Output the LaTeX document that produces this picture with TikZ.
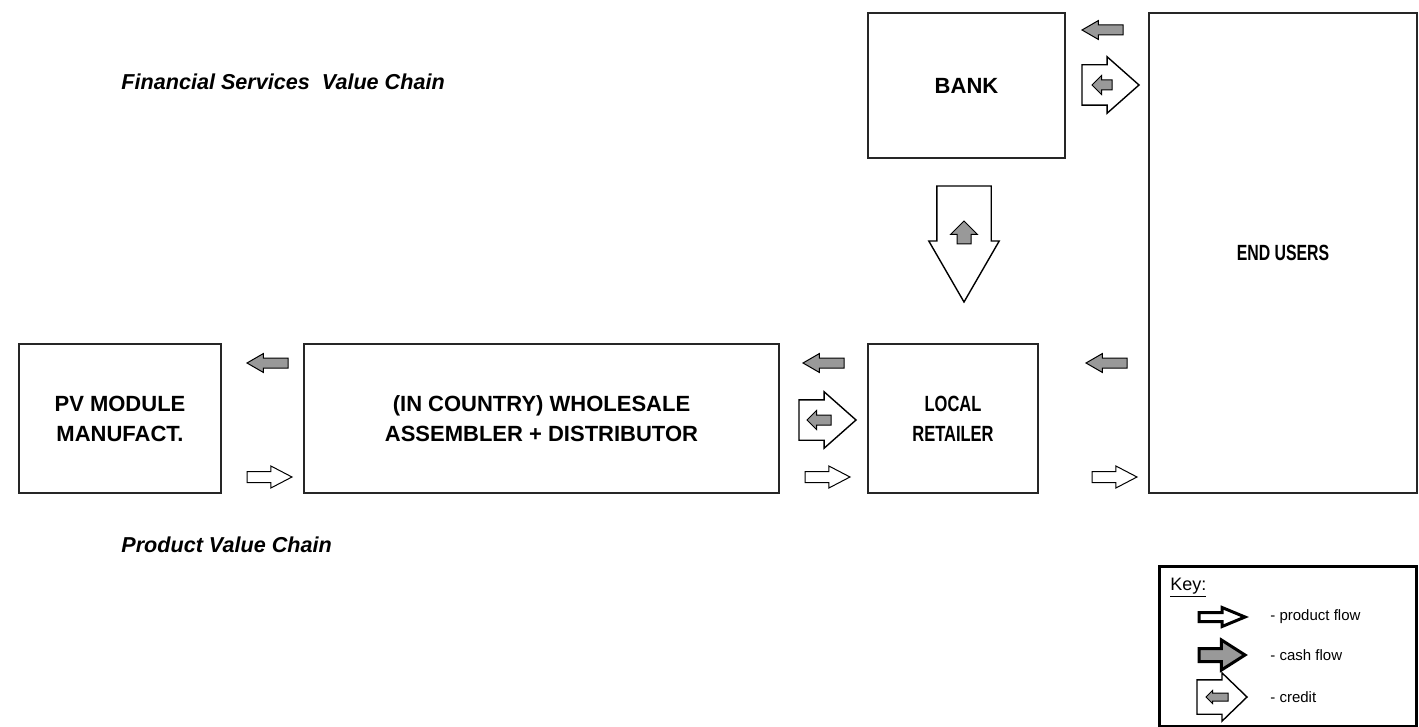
\documentclass[tikz,border=0pt]{standalone}
\usepackage{graphicx}
\usepackage{fontspec}
\setmainfont{Liberation Sans}
\usetikzlibrary{positioning, shapes.arrows}

\begin{document}
\begin{tikzpicture}[
    x=0.5pt, y=-0.5pt,
    box/.style={rectangle, draw=black!85, line width=0.8pt, outer sep=0pt,
                font=\bfseries\fontsize{11}{15}\selectfont, align=center},
    title/.style={anchor=west, inner sep=0pt,
                  font=\bfseries\itshape\fontsize{10.8}{13}\selectfont},
    flow/.style={single arrow, draw=black, line width=0.5pt, outer sep=0pt,
                 inner sep=0pt, minimum width=0pt, anchor=tail},
    product/.style={flow, fill=white, inner ysep=2.5pt, single arrow head extend=2.75pt,
                    minimum height=22.5pt, single arrow tip angle=55},
    cash/.style={flow, fill=black!40, inner ysep=2.25pt, single arrow head extend=2.25pt,
                 minimum height=20.5pt, single arrow tip angle=60,
                 shape border rotate=180},
    smallcash/.style={cash, minimum height=12pt, single arrow tip angle=90, anchor=tip},
    credit/.style={flow, fill=white, line width=0.7pt, inner ysep=9.75pt,
                   single arrow head extend=4pt, minimum height=28.5pt,
                   single arrow tip angle=83},
    keytext/.style={anchor=west, inner sep=0pt, font=\fontsize{7.5}{9}\selectfont},
  ]
  \useasboundingbox (0,0) rectangle (1419,727);

  \node[title] (fin) at (121,82) {Financial Services\ \ Value Chain};
  \node[title] (prod) at (121,545) {Product Value Chain};

  % the chain
  \node[box, minimum width=101pt, minimum height=74.5pt] (pv) at (120,418.5) {PV MODULE\\MANUFACT.};
  \node[box, minimum width=237.5pt, minimum height=74.5pt, right=41.5pt of pv] (ws) {(IN COUNTRY) WHOLESALE\\ASSEMBLER + DISTRIBUTOR};
  \node[box, minimum width=85pt, minimum height=74.5pt, right=44.5pt of ws] (lr) {\scalebox{0.75}[1]{LOCAL}\\\scalebox{0.75}[1]{RETAILER}};
  \node[box, minimum width=134pt, minimum height=240pt, anchor=south west] (eu) at ([xshift=55.5pt]lr.south east) {\scalebox{0.72}[1]{END USERS}};
  \node[box, minimum width=98.5pt, minimum height=72.5pt, above=93pt of lr.north west, anchor=south west] (bank) {BANK};

  % cash flow back, product flow forward
  \foreach \x/\y [count=\i] in {288/363, 844/363, 1127/363, 1123/30}
    \node[cash] (c\i) at (\x,\y) {};
  \foreach \x [count=\i] in {247, 805, 1092}
    \node[product] (p\i) at (\x,477) {};

  % credit
  \node[credit] (cr1) at (799,420) {};
  \node[smallcash] (cr1c) at ([xshift=4pt]cr1.tail) {};
  \node[credit] (cr2) at (1082,85) {};
  \node[smallcash, minimum height=10pt] (cr2c) at ([xshift=5pt]cr2.tail) {};
  \node[credit, shape border rotate=270, inner sep=13.25pt, single arrow head extend=4pt,
        minimum height=58pt, single arrow tip angle=60] (loan) at (964,186) {};
  \node[smallcash, shape border rotate=90, inner sep=3.25pt, single arrow head extend=3.25pt,
        minimum height=11.5pt] (loanc) at ([yshift=-17.5pt]loan.tail) {};

  % key
  \node[draw, line width=1.5pt, minimum width=128.5pt, minimum height=80pt, outer sep=0pt] (key) at (1287.5,646) {};
  \node[anchor=base west, inner sep=0pt, font=\fontsize{9}{10}\selectfont] (keyt) at (1170,590) {\underline{Key:}};
  \node[product, line width=1.5pt, inner ysep=1.5pt, single arrow head extend=2.5pt,
        minimum height=23pt, single arrow tip angle=45] (kp) at (1199,617) {};
  \node[product, fill=black!40, line width=1.5pt, inner ysep=2.5pt, single arrow head extend=4.25pt,
        minimum height=23pt, single arrow tip angle=65] (kc) at (1199,655) {};
  \node[credit, inner ysep=8.25pt, single arrow head extend=3.5pt, minimum height=25pt,
        single arrow tip angle=88] (kcr) at (1197,697) {};
  \node[smallcash, inner ysep=1.75pt, single arrow head extend=1.25pt,
        minimum height=11pt] (kcrc) at ([xshift=4.5pt]kcr.tail) {};
  \node[keytext] (kpt) at (1270,617) {- product flow};
  \node[keytext] (kct) at (1270,655) {- cash flow};
  \node[keytext] (kcrt) at (1270,697) {- credit};
\end{tikzpicture}
\end{document}
